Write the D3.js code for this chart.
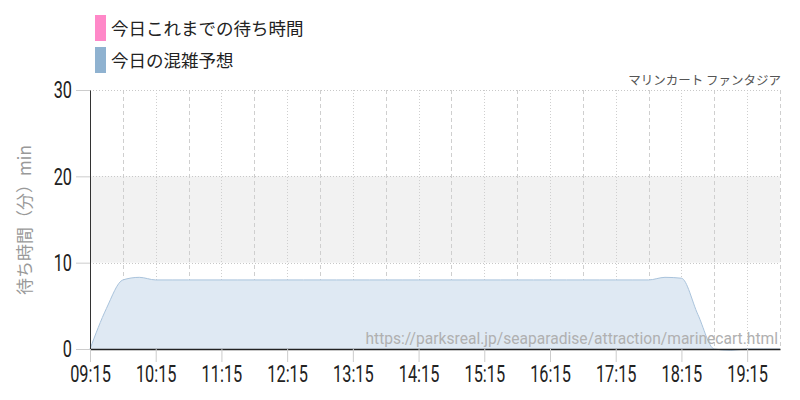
<!DOCTYPE html>
<html><head><meta charset="utf-8">
<script src="https://cdn.jsdelivr.net/npm/d3@7"></script>
<style>
html,body{margin:0;padding:0;background:#fff;}
svg{display:block;}
</style>
</head><body>
<svg id="c" width="800" height="400"></svg>
<script>
// ---- data ----
const times = ["09:15","09:30","09:45","10:00","10:15","10:30","10:45","11:00","11:15","11:30","11:45","12:00","12:15","12:30","12:45","13:00","13:15","13:30","13:45","14:00","14:15","14:30","14:45","15:00","15:15","15:30","15:45","16:00","16:15","16:30","16:45","17:00","17:15","17:30","17:45","18:00","18:15","18:30","18:45","19:00","19:15","19:30","19:45"];
const forecast = [0,4.7,8,8.3,8,8,8,8,8,8,8,8,8,8,8,8,8,8,8,8,8,8,8,8,8,8,8,8,8,8,8,8,8,8,8,8.3,8.2,4,0,-0.15,0,0,0];
const todaySoFar = [];
const xTickLabels = ["09:15","10:15","11:15","12:15","13:15","14:15","15:15","16:15","17:15","18:15","19:15"];
const gridLabels = ["09:15","09:45","10:15","10:45","11:15","11:45","12:15","12:45","13:15","13:45","14:15","14:45","15:15","15:45","16:15","16:45","17:15","17:45","18:15","18:45","19:15","19:45"];
const yTicks = [0,10,20,30];
const legendLabels = ["今日これまでの待ち時間","今日の混雑予想"];
const legendColors = ["#ff88c8","#8fb2d0"];
const title = "マリンカート ファンタジア";
const yLabel = "待ち時間（分）min";
const watermark = "https://parksreal.jp/seaparadise/attraction/marinecart.html";
const band = [10,20];

// ---- helpers ----
const parse = s => { const [h,m] = s.split(":").map(Number); return new Date(2024,0,1,h,m); };
const svg = d3.select("#c");
const L = 90, R = 780, T = 90, B = 349;
const x = d3.scaleTime().domain([parse("09:15"), parse("19:45")]).range([L, R]);
const y = d3.scaleLinear().domain([0,30]).range([B, T]);
const numFont = "Roboto,sans-serif";
const jpFont = "'Noto Sans CJK JP','Noto Sans',sans-serif";
const SX = 0.68;

// band
svg.append("rect").attr("x", L).attr("width", R-L)
  .attr("y", y(band[1])).attr("height", y(band[0]) - y(band[1]))
  .attr("fill", "#f2f2f2");

// vertical grid lines every 30 min
svg.append("g").selectAll("line").data(gridLabels).join("line")
  .attr("x1", d => Math.round(x(parse(d))) + 0.5).attr("x2", d => Math.round(x(parse(d))) + 0.5)
  .attr("y1", T).attr("y2", B)
  .attr("stroke", "#cfcfcf").attr("stroke-width", 1)
  .attr("stroke-dasharray", d => (d.endsWith(":15") ? "1,2" : "4,3"));

// horizontal grid
svg.append("g").selectAll("line").data(yTicks.filter(v => v > 0)).join("line")
  .attr("x1", L).attr("x2", R).attr("y1", d => Math.round(y(d)) + 0.5).attr("y2", d => Math.round(y(d)) + 0.5)
  .attr("stroke", "#c8c8c8").attr("stroke-dasharray","1,2");

// area
const pts = times.map((t,i) => ({t: parse(t), v: forecast[i]}));
const area = d3.area().x(d => x(d.t)).y0(y(0)).y1(d => y(d.v)).curve(d3.curveMonotoneX);
const line = d3.line().x(d => x(d.t)).y(d => y(d.v)).curve(d3.curveMonotoneX);
svg.append("path").datum(pts).attr("d", area).attr("fill", "#dfe9f3");
svg.append("path").datum(pts).attr("d", line).attr("fill", "none")
  .attr("stroke", "#a9c3dc").attr("stroke-width", 1);

// watermark
svg.append("text").attr("x", 778).attr("y", 344).attr("text-anchor","end")
  .attr("font-family", "Roboto,sans-serif").attr("font-size", 15.6)
  .attr("fill", "#b0b0b0").text(watermark);

// axes
const yAxis = d3.axisLeft(y).tickValues(yTicks).tickSize(14).tickSizeOuter(0).tickFormat(d3.format("d"));
const gy = svg.append("g").attr("transform", `translate(${L},0)`).call(yAxis);
gy.select(".domain").attr("stroke", "#333");
gy.selectAll(".tick line").attr("stroke", "#ccc");
gy.selectAll(".tick text").attr("x", 0).attr("transform", `translate(-18,0) scale(${SX},1)`)
  .attr("font-family", numFont).attr("font-size", 24).attr("fill", "#222");

const xAxis = d3.axisBottom(x).tickValues(xTickLabels.map(parse)).tickSize(13).tickSizeOuter(0).tickPadding(3)
  .tickFormat(d3.timeFormat("%H:%M"));
const gx = svg.append("g").attr("transform", `translate(0,${B})`).call(xAxis);
gx.select(".domain").attr("stroke", "#222").attr("stroke-width", 1.5);
gx.selectAll(".tick line").attr("stroke", "#ccc");
gx.selectAll(".tick text").attr("transform", `scale(${SX},1)`)
  .attr("font-family", numFont).attr("font-size", 24).attr("fill", "#222");

// legend
const lg = svg.append("g");
legendLabels.forEach((lab, i) => {
  lg.append("rect").attr("x", 95).attr("y", 15 + i*32).attr("width", 11).attr("height", 26)
    .attr("fill", legendColors[i]);
  lg.append("text").attr("x", 111).attr("y", 35 + i*32)
    .attr("font-family", jpFont).attr("font-size", 17.5).attr("fill", "#222").text(lab);
});

// title
svg.append("text").attr("x", 781).attr("y", 85).attr("text-anchor","end")
  .attr("font-family", jpFont).attr("font-size", 12.5).attr("fill", "#555").text(title);

// y label
svg.append("text").attr("transform", "translate(31,220) rotate(-90)").attr("text-anchor","middle")
  .attr("font-family", jpFont).attr("font-size", 17).attr("fill", "#999").text(yLabel);
</script>
</body></html>
